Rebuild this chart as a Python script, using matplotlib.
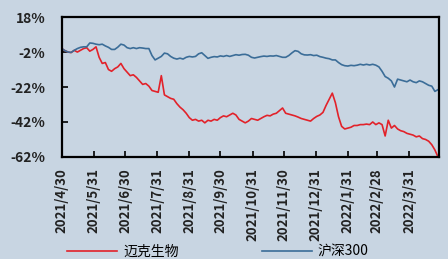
#!/usr/bin/env python3
"""
迈克生物 vs 沪深300 累计涨跌幅 (2021/4/30 - 2022/4/29)
"""
import pandas as pd
import matplotlib
matplotlib.use('Agg')
import matplotlib.pyplot as plt
import matplotlib.dates as mdates
from matplotlib.ticker import FixedLocator, FuncFormatter

plt.rcParams['font.family'] = ['Noto Sans CJK SC', 'DejaVu Sans']

# データ（3日ごとのサンプル, %）
start_date = '2021-04-30'

maike = [0, -1.2, -2.0, -2.3, -1.0, -2.0, -1.0, 0.0, 0.5, -1.5,
         -0.5, 1.0, -5.0, -8.5, -8.0, -12.0, -13.0, -11.5, -10.5, -8.5,
         -11.5, -13.5, -15.5, -15.0, -16.5, -18.5, -20.5, -20.0, -21.5, -24.0,
         -24.5, -25.0, -15.5, -26.5, -27.5, -28.5, -29.0, -31.5, -33.5, -35.0,
         -37.0, -39.5, -41.0, -40.5, -41.5, -41.0, -42.5, -41.0, -41.5, -40.5,
         -41.0, -39.5, -38.5, -39.0, -38.0, -37.0, -38.0, -40.5, -41.5, -42.5,
         -41.5, -40.0, -40.5, -41.0, -40.0, -39.0, -38.2, -38.5, -37.5, -37.0,
         -35.5, -34.0, -37.0, -37.5, -38.0, -38.5, -39.2, -40.0, -40.5, -41.0,
         -41.5, -40.0, -38.8, -38.0, -36.5, -32.5, -29.0, -25.5, -31.0, -39.0,
         -44.5, -46.0, -45.5, -45.0, -44.0, -44.0, -43.5, -43.5, -43.2, -43.5,
         -42.0, -43.5, -42.5, -43.5, -50.0, -41.0, -45.5, -44.0, -46.0, -47.0,
         -47.5, -48.5, -49.0, -49.5, -50.5, -50.0, -51.5, -52.0, -53.0, -55.0,
         -58.0, -62.0]

hs300 = [0, -1.2, -2.0, -2.2, -1.0, 0.0, 0.7, 1.0, 1.0, 3.2,
         3.0, 2.5, 2.2, 2.5, 1.5, 0.7, -0.5, -0.5, 0.8, 2.5,
         2.0, 0.5, 0.0, 0.5, 0.0, 0.5, 0.3, 0.0, 0.0, -4.0,
         -6.5, -5.5, -4.5, -2.6, -3.0, -4.5, -5.5, -6.0, -5.5, -6.0,
         -5.0, -4.5, -4.8, -4.5, -3.0, -2.4, -4.0, -5.6, -5.0, -4.6,
         -4.8, -4.2, -4.5, -4.0, -4.5, -4.0, -3.5, -3.8, -3.4, -3.3,
         -3.8, -5.0, -5.4, -5.0, -4.6, -4.3, -4.5, -4.2, -4.3, -4.0,
         -4.5, -5.0, -5.0, -4.0, -2.5, -1.2, -1.6, -3.0, -3.6, -3.7,
         -3.5, -4.0, -3.8, -4.6, -5.0, -5.5, -5.8, -6.5, -6.5, -8.0,
         -9.2, -9.8, -10.0, -9.6, -9.8, -9.5, -9.0, -9.4, -9.0, -9.4,
         -9.0, -9.5, -10.5, -13.0, -16.0, -17.0, -18.5, -22.0, -17.5, -18.0,
         -18.5, -19.0, -18.0, -19.0, -19.5, -18.5, -19.0, -20.0, -21.0, -21.5,
         -24.5, -23.5]

tick_dates = ['2021-04-30', '2021-05-31', '2021-06-30', '2021-07-31',
              '2021-08-31', '2021-09-30', '2021-10-31', '2021-11-30',
              '2021-12-31', '2022-01-31', '2022-02-28', '2022-03-31']
y_ticks = [18, -2, -22, -42, -62]

labels = ['迈克生物', '沪深300']
bg = '#c8d5e2'

dates = pd.date_range(start_date, periods=len(maike), freq='3D')

fig = plt.figure(figsize=(4.48, 2.59), dpi=100, facecolor=bg)
ax = fig.add_axes([0.138, 0.394, 0.842, 0.540], facecolor=bg)

ax.plot(dates, maike, color='#e2222a', linewidth=1.2, label=labels[0])
ax.plot(dates, hs300, color='#3b6d98', linewidth=1.2, label=labels[1])

ax.set_xlim(pd.Timestamp(start_date), dates[-1] + pd.Timedelta(days=1))
ax.set_ylim(-62, 18)

ax.yaxis.set_major_locator(FixedLocator(y_ticks))
ax.yaxis.set_major_formatter(FuncFormatter(lambda v, p: f'{v:.0f}%'))

ticks = pd.to_datetime(tick_dates)
ax.set_xticks(mdates.date2num(ticks))
ax.set_xticklabels([f'{d.year}/{d.month}/{d.day}' for d in ticks], rotation=90)

ax.tick_params(axis='both', direction='in', length=4, width=1.2, colors='black')
ax.tick_params(axis='y', pad=12, labelsize=10)
ax.tick_params(axis='x', pad=8, labelsize=9.5)
for lab in ax.get_yticklabels() + ax.get_xticklabels():
    lab.set_fontweight('bold')
    lab.set_color('#222222')

for s in ax.spines.values():
    s.set_linewidth(1.6)
    s.set_color('black')

fig.legend(loc='center', bbox_to_anchor=(0.486, 0.028), ncol=2, frameon=False,
           fontsize=10, handlelength=3.6, columnspacing=6.0, handletextpad=0.4)

plt.savefig('out.png', dpi=100, facecolor=bg)
